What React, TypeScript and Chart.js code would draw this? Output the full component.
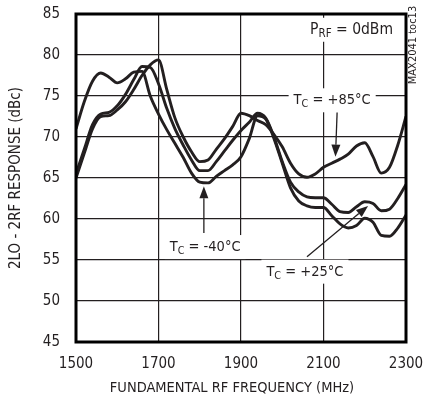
import React, { useEffect, useRef } from "react";
import { Chart, registerables } from "chart.js";

Chart.register(...registerables);

// Fundamental RF frequency (MHz)
const FREQ = [
  1500, 1520, 1540, 1560, 1580, 1600, 1620, 1640, 1660, 1680,
  1700, 1720, 1740, 1760, 1780, 1800, 1820, 1840, 1860, 1880,
  1900, 1920, 1940, 1960, 1980, 2000, 2020, 2040, 2060, 2080,
  2100, 2120, 2140, 2160, 2180, 2200, 2220, 2240, 2260, 2280, 2300,
];

// 2LO - 2RF response (dBc), TC = -40°C
const TC_M40 = [
  71.0, 74.3, 76.8, 77.8, 77.3, 76.6, 77.1, 77.9, 78.0, 75.0,
  72.8, 70.9, 69.2, 67.5, 65.6, 64.5, 64.4, 65.2, 65.9, 66.6,
  67.6, 69.8, 72.6, 72.2, 69.8, 66.8, 63.8, 62.2, 61.6, 61.4,
  61.4, 60.4, 59.4, 58.9, 59.2, 60.1, 59.6, 58.0, 57.9, 58.9, 60.5,
];

// TC = +25°C
const TC_P25 = [
  65.5, 68.5, 71.5, 72.8, 73.0, 73.8, 75.2, 77.0, 78.6, 78.5,
  76.5, 73.5, 71.0, 69.0, 67.2, 65.9, 65.9, 67.0, 68.3, 69.6,
  70.8, 71.8, 72.9, 72.3, 70.0, 67.0, 64.5, 63.3, 62.7, 62.6,
  62.6, 61.8, 60.9, 60.8, 61.5, 62.1, 61.9, 61.0, 61.2, 62.5, 64.2,
];

// TC = +85°C
const TC_P85 = [
  65.0, 68.0, 71.0, 72.5, 72.6, 73.3, 74.3, 75.8, 77.5, 78.8,
  79.4, 75.8, 72.3, 70.0, 68.2, 67.0, 67.2, 68.5, 69.8, 71.3,
  72.9, 72.6, 72.0, 71.5, 70.3, 68.8, 66.8, 65.5, 65.1, 65.5,
  66.3, 66.8, 67.3, 67.9, 68.9, 69.3, 67.6, 65.6, 66.3, 69.0, 72.5,
];

const X_MIN = 1500;
const X_MAX = 2300;
const X_STEP = 200;
const Y_MIN = 45;
const Y_MAX = 85;
const Y_STEP = 5;

const X_TITLE = "FUNDAMENTAL RF FREQUENCY (MHz)";
const Y_TITLE = "2LO - 2RF RESPONSE (dBc)";
const SIDE_NOTE = "MAX2041 toc13";

// Annotation labels: main text, subscript, remaining text, anchor in data units
const LABELS = [
  { main: "P", sub: "RF", rest: " = 0dBm", x: 2168, y: 83.2, size: 15.5 },
  { main: "T", sub: "C", rest: " = +85°C", x: 2121, y: 74.6, size: 14.5 },
  { main: "T", sub: "C", rest: " = -40°C", x: 1813, y: 56.7, size: 14.5 },
  { main: "T", sub: "C", rest: " = +25°C", x: 2055, y: 53.7, size: 14.5 },
];

// Arrows in data units: [fromX, fromY, toX, toY]
const ARROWS = [
  [2133, 73.0, 2129, 67.6],
  [1810, 58.3, 1810, 64.0],
  [2060, 55.4, 2208, 61.6],
];

const INK = "#231f20";
const FONT = "'Liberation Sans Narrow', 'Arial Narrow', 'DejaVu Sans Condensed', sans-serif";

const framePlugin = {
  id: "frameAndNotes",
  beforeDatasetsDraw(chart: any) {
    const { ctx, scales } = chart;
    const xs = scales.x;
    const ys = scales.y;
    ctx.save();
    for (const l of LABELS) {
      const cx = xs.getPixelForValue(l.x);
      const cy = ys.getPixelForValue(l.y);
      const big = `${l.size}px ${FONT}`;
      const small = `${l.size * 0.74}px ${FONT}`;
      ctx.font = big;
      const wMain = ctx.measureText(l.main).width;
      const wRest = ctx.measureText(l.rest).width;
      ctx.font = small;
      const wSub = ctx.measureText(l.sub).width;
      const total = wMain + wSub + wRest;
      const x0 = cx - total / 2;
      ctx.fillStyle = "#ffffff";
      ctx.fillRect(x0 - 5, cy - 11, total + 10, 24);
      ctx.fillStyle = INK;
      ctx.textBaseline = "alphabetic";
      ctx.textAlign = "left";
      ctx.font = big;
      ctx.fillText(l.main, x0, cy + 5);
      ctx.font = small;
      ctx.fillText(l.sub, x0 + wMain, cy + 8);
      ctx.font = big;
      ctx.fillText(l.rest, x0 + wMain + wSub, cy + 5);
    }
    ctx.restore();
  },
  afterDraw(chart: any) {
    const { ctx, chartArea, scales } = chart;
    const xs = scales.x;
    const ys = scales.y;
    ctx.save();
    ctx.strokeStyle = INK;
    ctx.fillStyle = INK;
    ctx.lineWidth = 1.3;
    for (const a of ARROWS) {
      const x1 = xs.getPixelForValue(a[0]);
      const y1 = ys.getPixelForValue(a[1]);
      const x2 = xs.getPixelForValue(a[2]);
      const y2 = ys.getPixelForValue(a[3]);
      const ang = Math.atan2(y2 - y1, x2 - x1);
      const hl = 12;
      const hw = 4.5;
      const bx = x2 - hl * Math.cos(ang);
      const by = y2 - hl * Math.sin(ang);
      ctx.beginPath();
      ctx.moveTo(x1, y1);
      ctx.lineTo(bx, by);
      ctx.stroke();
      ctx.beginPath();
      ctx.moveTo(x2, y2);
      ctx.lineTo(bx + hw * Math.sin(ang), by - hw * Math.cos(ang));
      ctx.lineTo(bx - hw * Math.sin(ang), by + hw * Math.cos(ang));
      ctx.closePath();
      ctx.fill();
    }
    ctx.lineWidth = 3;
    ctx.strokeStyle = "#000";
    ctx.strokeRect(
      chartArea.left,
      chartArea.top,
      chartArea.right - chartArea.left,
      chartArea.bottom - chartArea.top
    );
    // x-axis title (slightly left of centre, as in the original)
    ctx.font = `14.5px ${FONT}`;
    ctx.fillStyle = INK;
    ctx.textAlign = "center";
    ctx.textBaseline = "middle";
    ctx.fillText(X_TITLE, (chartArea.left + chartArea.right) / 2 - 9, chartArea.bottom + 46);
    // side note
    ctx.translate(chartArea.right + 7, chartArea.top + 31);
    ctx.rotate(-Math.PI / 2);
    ctx.font = `11px ${FONT}`;
    ctx.fillText(SIDE_NOTE, 0, 0);
    ctx.restore();
  },
};

export default function App() {
  const ref = useRef<HTMLCanvasElement>(null);

  useEffect(() => {
    document.body.style.margin = "0";
    const canvas = ref.current;
    if (!canvas) return;
    const mk = (vals: number[]) => FREQ.map((f, i) => ({ x: f, y: vals[i] }));
    const ds = (label: string, vals: number[]) => ({
      label,
      data: mk(vals),
      borderColor: INK,
      borderWidth: 2.9,
      pointRadius: 0,
      fill: false,
      cubicInterpolationMode: "monotone" as const,
    });
    const chart = new Chart(canvas, {
      type: "line",
      data: {
        datasets: [
          ds("TC = -40°C", TC_M40),
          ds("TC = +25°C", TC_P25),
          ds("TC = +85°C", TC_P85),
        ],
      },
      options: {
        animation: false,
        responsive: false,
        maintainAspectRatio: false,
        layout: { padding: { top: 14, right: 18, left: 0, bottom: 0 } },
        plugins: {
          legend: { display: false },
          tooltip: { enabled: false },
        },
        scales: {
          x: {
            type: "linear",
            min: X_MIN,
            max: X_MAX,
            ticks: {
              stepSize: X_STEP,
              color: INK,
              padding: 13,
              font: { family: FONT, size: 15 },
              callback: (v: any) => String(v),
            },
            grid: { color: INK, lineWidth: 1.2, drawTicks: false },
            border: { display: false },
            title: { display: false },
            afterFit(scale: any) {
              scale.height = 61;
              scale.paddingLeft = 0;
              scale.paddingRight = 0;
            },
          },
          y: {
            min: Y_MIN,
            max: Y_MAX,
            ticks: {
              stepSize: Y_STEP,
              color: INK,
              padding: 16,
              font: { family: FONT, size: 15 },
              callback: (v: any) => String(v),
            },
            grid: { color: INK, lineWidth: 1.2, drawTicks: false },
            border: { display: false },
            title: {
              display: true,
              text: Y_TITLE,
              color: INK,
              font: { family: FONT, size: 15 },
              padding: { top: 7, bottom: 0 },
            },
            afterFit(scale: any) {
              scale.width = 76;
              scale.paddingTop = 0;
              scale.paddingBottom = 0;
            },
          },
        },
      },
      plugins: [framePlugin],
    });
    return () => chart.destroy();
  }, []);

  return <canvas ref={ref} width={424} height={403} style={{ display: "block" }} />;
}
